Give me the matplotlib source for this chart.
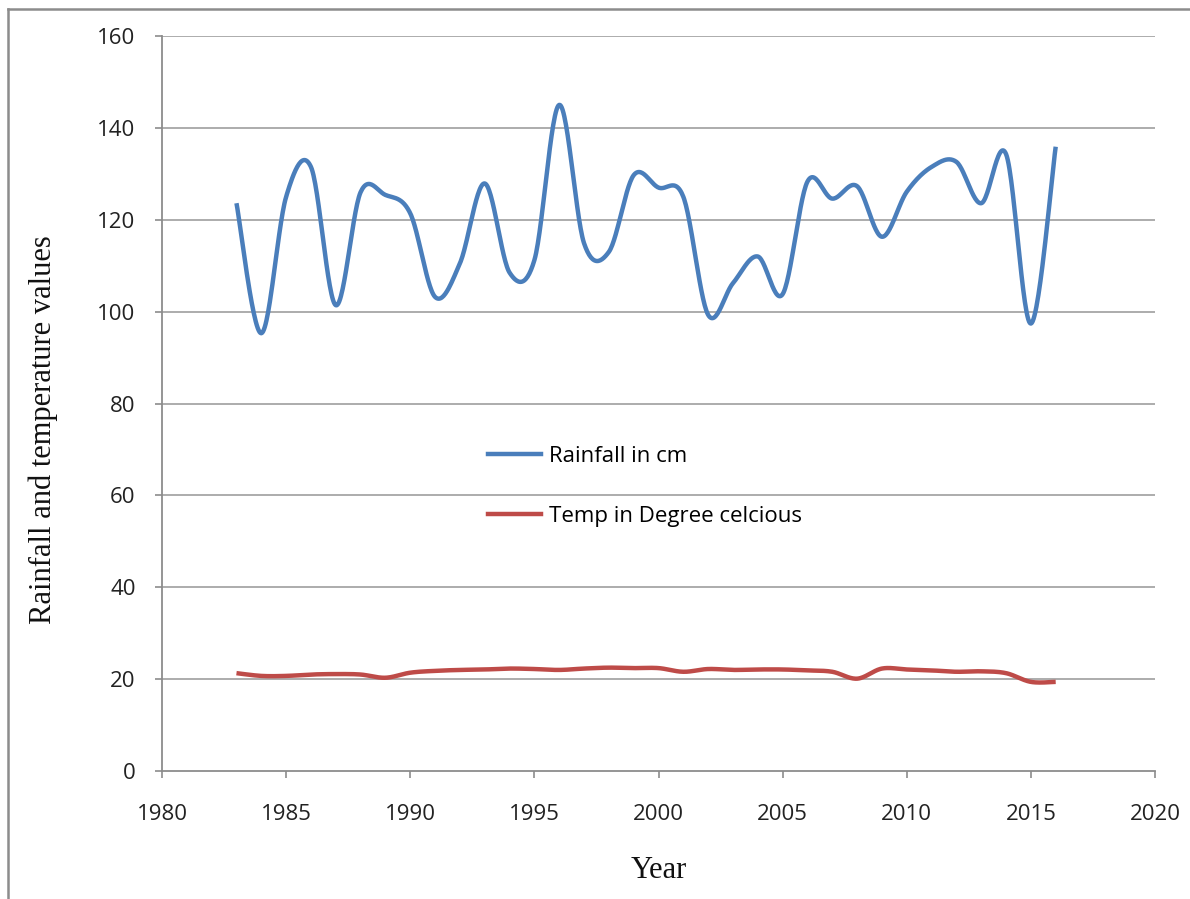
import numpy as np
import matplotlib.pyplot as plt
from matplotlib.lines import Line2D

years = list(range(1983, 2017))
rainfall = [123.6, 95.3, 125.0, 131.5, 101.4, 126.0, 125.4, 121.4, 103.2, 110.5,
            127.9, 108.5, 111.2, 145.0, 114.9, 113.0, 129.7, 127.0, 125.0, 99.3,
            106.2, 112.0, 103.8, 128.3, 124.6, 127.3, 116.3, 126.1, 131.5, 132.6,
            123.6, 134.3, 97.4, 135.9]
temperature = [21.3, 20.7, 20.7, 21.0, 21.1, 21.0, 20.3, 21.4, 21.8, 22.0,
               22.1, 22.3, 22.2, 22.0, 22.3, 22.5, 22.4, 22.4, 21.6, 22.2,
               22.0, 22.1, 22.1, 21.9, 21.6, 20.1, 22.3, 22.1, 21.9, 21.6,
               21.7, 21.3, 19.4, 19.4]

blue = "#4A7EBB"
red = "#BE4B48"
grid_col = "#A6A6A6"
axis_col = "#8C8C8C"


# Excel style "smoothed line": cubic bezier through each pair of points
def smooth(x, y, steps=30):
    x = np.asarray(x, float)
    y = np.asarray(y, float)
    px = np.concatenate([[x[0]], x, [x[-1]]])
    py = np.concatenate([[y[0]], y, [y[-1]]])
    xs, ys = [], []
    t = np.linspace(0, 1, steps)
    for i in range(1, len(px) - 2):
        p0 = np.array([px[i], py[i]])
        p3 = np.array([px[i + 1], py[i + 1]])
        c1 = p0 + (np.array([px[i + 1], py[i + 1]]) - np.array([px[i - 1], py[i - 1]])) / 6
        c2 = p3 - (np.array([px[i + 2], py[i + 2]]) - np.array([px[i], py[i]])) / 6
        b = ((1 - t) ** 3)[:, None] * p0 + (3 * (1 - t) ** 2 * t)[:, None] * c1 \
            + (3 * (1 - t) * t ** 2)[:, None] * c2 + (t ** 3)[:, None] * p3
        xs.extend(b[:, 0])
        ys.extend(b[:, 1])
    return xs, ys


fig = plt.figure(figsize=(11.9, 8.99), dpi=100)
ax = fig.add_axes([162 / 1190, 1 - 771 / 899, (1155 - 162) / 1190, (771 - 36) / 899])

for v in range(20, 161, 20):
    ax.axhline(v, color=grid_col, lw=1.3, zorder=1)

rx, ry = smooth(years, rainfall)
tx, ty = smooth(years, temperature)
ax.plot(rx, ry, color=blue, lw=3.2, solid_capstyle="butt", zorder=3)
ax.plot(tx, ty, color=red, lw=3.2, solid_capstyle="butt", zorder=3)

ax.set_xlim(1980, 2020)
ax.set_ylim(0, 160)
ax.set_xticks(range(1980, 2021, 5))
ax.set_yticks(range(0, 161, 20))

for s in ["top", "right"]:
    ax.spines[s].set_visible(False)
for s in ["left", "bottom"]:
    ax.spines[s].set_color(axis_col)
    ax.spines[s].set_linewidth(1.3)

ax.tick_params(axis="both", direction="out", length=5, width=1.2, color=axis_col,
               labelsize=16, labelcolor="#222222")
ax.tick_params(axis="y", pad=14)
ax.tick_params(axis="x", pad=19)
for lab in ax.get_xticklabels() + ax.get_yticklabels():
    lab.set_fontfamily("Open Sans")

ax.set_xlabel("Year", fontfamily="Liberation Serif", fontsize=22, color="#111111")
ax.xaxis.set_label_coords(0.5, -0.116)
ax.set_ylabel("Rainfall and temperature values", fontfamily="Liberation Serif",
              fontsize=22, color="#111111")
ax.yaxis.set_label_coords(-0.105, 0.464)

handles = [Line2D([], [], color=blue, lw=3.2), Line2D([], [], color=red, lw=3.2)]
ax.legend(handles, ["Rainfall in cm", "Temp in Degree celcious"],
          loc="upper left", bbox_to_anchor=(488 / 1190, 1 - 446 / 899),
          bbox_transform=fig.transFigure, frameon=False, borderpad=0,
          borderaxespad=0, handlelength=2.4, handletextpad=0.33,
          labelspacing=1.75, prop={"family": "Open Sans", "size": 16})

# outer chart frame (only top and left edges are visible)
fig.add_artist(Line2D([8 / 1190, 1], [1 - 9 / 899, 1 - 9 / 899], color="#8C8C8C", lw=1.8))
fig.add_artist(Line2D([8 / 1190, 8 / 1190], [0, 1 - 9 / 899], color="#8C8C8C", lw=1.8))

fig.savefig("out.png", dpi=100)
